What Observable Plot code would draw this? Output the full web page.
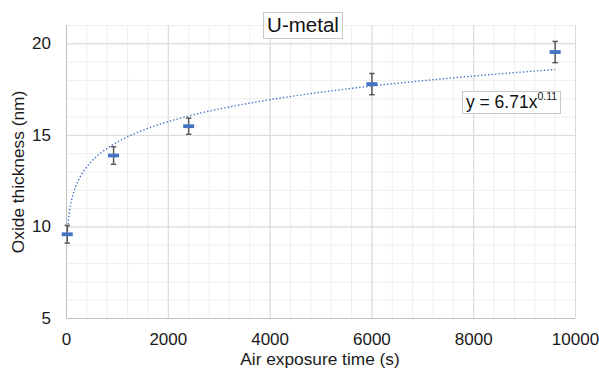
<!DOCTYPE html>
<html><head><meta charset="utf-8">
<script src="https://cdn.jsdelivr.net/npm/d3@7"></script>
<script src="https://cdn.jsdelivr.net/npm/@observablehq/plot@0.6"></script>
<style>
body{margin:0;background:#fff;}
#wrap{position:relative;width:599px;height:369px;font-family:"Liberation Sans",Arial,sans-serif;color:#1a1a1a;}
#wrap svg{position:absolute;left:0;top:0;}
.box{position:absolute;box-sizing:border-box;border:1px solid #C8C8C8;background:#fff;display:flex;align-items:center;justify-content:center;white-space:nowrap;color:#111;line-height:1;}
.lbl{position:absolute;white-space:nowrap;line-height:1;font-size:17.3px;color:#1a1a1a;}
</style></head>
<body><div id="wrap"></div>
<script>
const title = "U-metal";
const xLabel = "Air exposure time (s)";
const yLabel = "Oxide thickness (nm)";
const times = [15, 925, 2400, 6000, 9600];
const thickness = [9.6, 13.9, 15.5, 17.8, 19.55];
const errors = [0.48, 0.48, 0.44, 0.58, 0.58];
const xTicks = [0, 2000, 4000, 6000, 8000, 10000];
const yTicks = [5, 10, 15, 20];
const fitCoefText = "6.71";
const fitExpText = "0.11";

const data = times.map((t, i) => ({t, y: thickness[i], e: errors[i]}));

// Power-law trendline (least squares on log-log, as the spreadsheet does)
const lx = times.map(Math.log), ly = thickness.map(Math.log);
const mx = d3.mean(lx), my = d3.mean(ly);
const b = d3.sum(lx.map((v, i) => (v - mx) * (ly[i] - my))) / d3.sum(lx.map(v => (v - mx) ** 2));
const a = Math.exp(my - b * mx);
const t0 = times[0], t1 = times[times.length - 1];
const trend = d3.range(0, 401).map(i => {
  const t = t0 * Math.pow(t1 / t0, i / 400);
  return {t, y: a * Math.pow(t, b)};
});

const capSymbol = {draw(ctx) { ctx.moveTo(-2.7, 0); ctx.lineTo(2.7, 0); }};
const dashSymbol = {draw(ctx) { ctx.rect(-5.5, -1.9, 11, 3.8); }};

const chart = Plot.plot({
  width: 599, height: 369,
  marginLeft: 66, marginRight: 24, marginTop: 25, marginBottom: 51,
  x: {domain: [0, 10000]},
  y: {domain: [5, 21]},
  style: {fontFamily: '"Liberation Sans", Arial, sans-serif', fontSize: "17px", color: "#1a1a1a", background: "transparent"},
  marks: [
    Plot.ruleX(d3.range(0, 10001, 400), {stroke: "#EEEEEE", strokeWidth: 1}),
    Plot.ruleY(d3.range(5, 21.01, 1), {stroke: "#EEEEEE", strokeWidth: 1}),
    Plot.ruleX(xTicks, {stroke: "#D9D9D9", strokeWidth: 1}),
    Plot.ruleY(yTicks, {stroke: "#D9D9D9", strokeWidth: 1}),
    Plot.ruleX([0], {stroke: "#BFBFBF", strokeWidth: 1}),
    Plot.ruleY([5], {stroke: "#BFBFBF", strokeWidth: 1}),
    Plot.axisX({ticks: xTicks, tickSize: 0, tickPadding: 14, label: null, tickFormat: d3.format("d")}),
    Plot.axisY({ticks: yTicks, tickSize: 0, tickPadding: 15.5, label: null, tickFormat: d3.format("d")}),
    Plot.line(trend, {x: "t", y: "y", stroke: "#4472C4", strokeWidth: 1.4, strokeDasharray: "1.4,2.1", strokeLinecap: "butt"}),
    Plot.ruleX(data, {x: "t", y1: d => d.y - d.e, y2: d => d.y + d.e, stroke: "#595959", strokeWidth: 1.5}),
    Plot.dot(data, {x: "t", y: d => d.y - d.e, symbol: capSymbol, fill: "none", stroke: "#595959", strokeWidth: 1.5, r: 3}),
    Plot.dot(data, {x: "t", y: d => d.y + d.e, symbol: capSymbol, fill: "none", stroke: "#595959", strokeWidth: 1.5, r: 3}),
    Plot.dot(data, {x: "t", y: "y", symbol: dashSymbol, fill: "#4472C4", stroke: "none", r: 5})
  ]
});

const wrap = document.getElementById("wrap");
wrap.appendChild(chart);

const tbox = document.createElement("div");
tbox.className = "box";
Object.assign(tbox.style, {left: "263px", top: "12px", width: "80px", height: "26.5px", fontSize: "20.5px"});
tbox.textContent = title;
wrap.appendChild(tbox);

const ebox = document.createElement("div");
ebox.className = "box";
Object.assign(ebox.style, {left: "462px", top: "91px", width: "99px", height: "22.5px", fontSize: "17.5px"});
ebox.innerHTML = `y = ${fitCoefText}x<span style="font-size:10.5px;position:relative;top:-6px">${fitExpText}</span>`;
wrap.appendChild(ebox);

const xl = document.createElement("div");
xl.className = "lbl";
Object.assign(xl.style, {left: "320px", top: "351px", transform: "translateX(-50%)"});
xl.textContent = xLabel;
wrap.appendChild(xl);

const yl = document.createElement("div");
yl.className = "lbl";
Object.assign(yl.style, {left: "19px", top: "172px", transform: "translate(-50%,-50%) rotate(-90deg)"});
yl.textContent = yLabel;
wrap.appendChild(yl);
</script>
</body></html>
